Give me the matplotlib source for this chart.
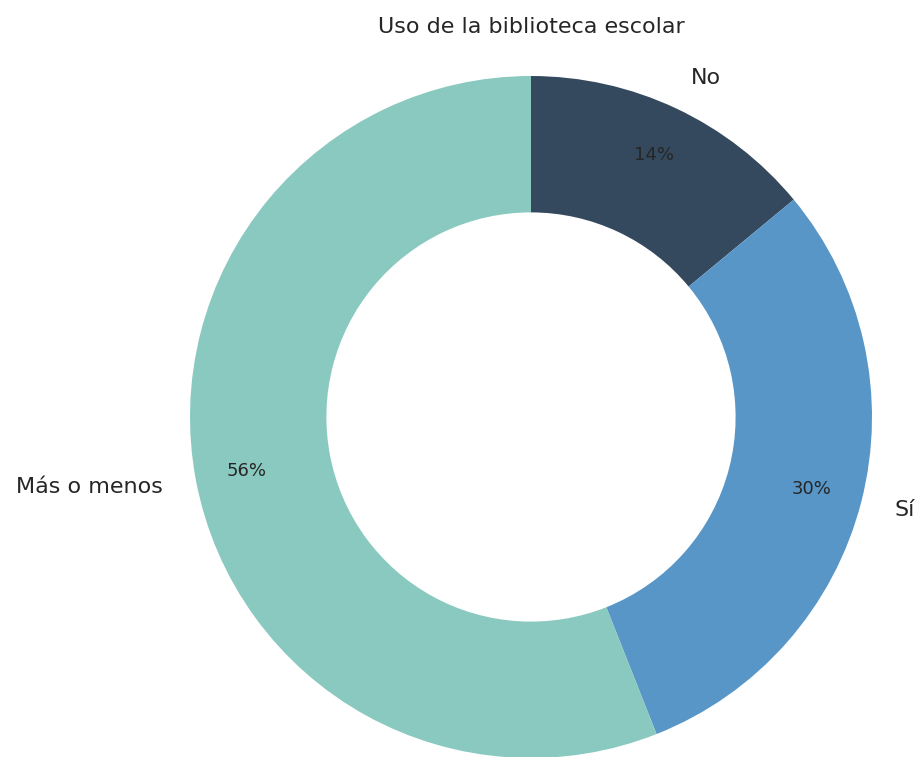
import matplotlib.pyplot as plt

# 数据
labels = ['No', 'Sí', 'Más o menos']
values = [14, 30, 56]
colors = ['#34495e', '#5896c8', '#8ac9bf']

W, H = 918, 757
fig = plt.figure(figsize=(W / 100, H / 100), dpi=100)

# 圆心与半径（像素）
cx, cy, r = 531, 417, 341
ax = fig.add_axes([(cx - r) / W, (H - cy - r) / H, 2 * r / W, 2 * r / H])

wedges, texts, autotexts = ax.pie(values, labels=labels, colors=colors,
                                  startangle=90, counterclock=False,
                                  autopct='%1.0f%%', pctdistance=0.85,
                                  labeldistance=1.1,
                                  wedgeprops=dict(width=0.4, linewidth=0),
                                  textprops=dict(color='#262626'))
for t in texts:
    t.set_fontsize(16)
for t in autotexts:
    t.set_fontsize(13)

ax.set_xlim(-1, 1)
ax.set_ylim(-1, 1)

fig.text(cx / W, 1 - 27 / H, 'Uso de la biblioteca escolar', ha='center', va='center',
         fontsize=16, color='#262626')

fig.savefig('out.png', dpi=100)
